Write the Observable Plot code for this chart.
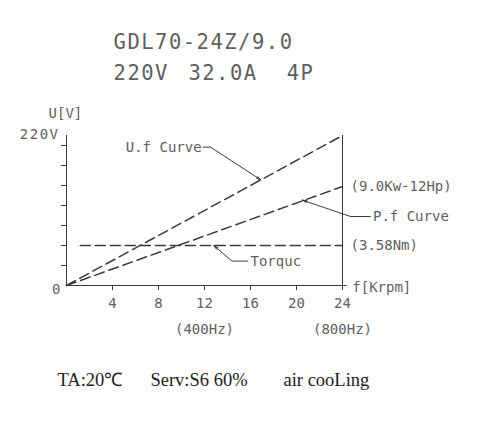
<!DOCTYPE html>
<html><head><meta charset="utf-8">
<script src="https://cdn.jsdelivr.net/npm/d3@7"></script>
<script src="https://cdn.jsdelivr.net/npm/@observablehq/plot@0.6"></script>
<style>body{margin:0;background:#fff}</style>
</head><body><div id="chart"></div>
<script>
const xTicks = [4, 8, 12, 16, 20, 24];
const yTicks = [1, 2, 3, 4, 5, 6, 7];
const ufCurve = [{f: 0, v: 0}, {f: 24, v: 7.5}];
const pfCurve = [{f: 0, v: 0}, {f: 24, v: 4.95}];
const torqueLine = [{f: 1.2, v: 2}, {f: 24, v: 2}];
const hzLabels = [{f: 12, text: "(400Hz)"}, {f: 24, text: "(800Hz)"}];
const leftLeaders = [
  {name: "U.f Curve", lx: 11.75, ly: 6.92, ex: 12.52, ey: 6.92, tx: 16.9, ty: 5.28}
];
const rightLeaders = [
  {name: "P.f Curve", lx: 26.65, ly: 3.45, ex: 24.7, ey: 3.45, tx: 20.5, ty: 4.27},
  {name: "Torquc", lx: 16.0, ly: 1.22, ex: 14.4, ey: 1.22, tx: 12.8, ty: 2.0}
];
const rightLabels = [
  {f: 24.7, v: 4.95, text: "(9.0Kw-12Hp)"},
  {f: 24.7, v: 2.0, text: "(3.58Nm)"},
  {f: 24.85, v: -0.1, text: "f[Krpm]"}
];
const titleLine1 = ["GDL70-24Z/9.0"];
const titleLine2 = ["220V", "32.0A", "4P"];
const footer = ["TA:20℃", "Serv:S6 60%", "air cooLing"];

const cad = "DejaVu Sans Mono, monospace";
const ink = "#3a3a3a";
const txt = "#606060";

const chart = Plot.plot({
  width: 480, height: 425,
  marginLeft: 66, marginRight: 138, marginTop: 135, marginBottom: 140,
  x: {domain: [0, 24], axis: null},
  y: {domain: [0, 7.5], axis: null},
  style: {background: "#fff", color: ink, fontFamily: cad, overflow: "visible"},
  marks: [
    Plot.axisX({ticks: xTicks, tickSize: 5, tickPadding: 8, fontSize: 14, fill: txt, stroke: ink, tickFormat: d => String(d)}),
    Plot.axisY({ticks: yTicks, tickSize: 5, tickFormat: () => "", stroke: ink}),
    Plot.ruleX([0], {y1: 0, y2: 7.5, stroke: ink}),
    Plot.ruleX([24], {y1: -0.22, y2: 7.5, stroke: ink}),
    Plot.ruleY([0], {x1: 0, x2: 24.4, stroke: ink}),
    Plot.line(ufCurve, {x: "f", y: "v", stroke: ink, strokeDasharray: "10,5"}),
    Plot.line(pfCurve, {x: "f", y: "v", stroke: ink, strokeDasharray: "10,5"}),
    Plot.line(torqueLine, {x: "f", y: "v", stroke: ink, strokeDasharray: "10,5"}),
    Plot.link(leftLeaders, {x1: d => d.lx + 0.1, y1: "ly", x2: "ex", y2: "ey", stroke: ink}),
    Plot.link(rightLeaders, {x1: d => d.lx - 0.2, y1: "ly", x2: "ex", y2: "ey", stroke: ink}),
    Plot.arrow([...leftLeaders, ...rightLeaders], {x1: "ex", y1: "ey", x2: "tx", y2: "ty", stroke: ink, headLength: 7, headAngle: 25, strokeWidth: 1}),
    Plot.text(leftLeaders, {x: "lx", y: "ly", text: "name", textAnchor: "end", fontSize: 14, fill: txt}),
    Plot.text(rightLeaders, {x: "lx", y: "ly", text: "name", textAnchor: "start", fontSize: 14, fill: txt}),
    Plot.text(rightLabels, {x: "f", y: "v", text: "text", textAnchor: "start", fontSize: 14, fill: txt}),
    Plot.text(hzLabels, {x: "f", y: -2.2, text: "text", fontSize: 14, fill: txt}),
    Plot.text(["220V"], {x: 0, y: 7.55, dx: -7, textAnchor: "end", fontSize: 14, fill: txt}),
    Plot.text(["0"], {x: 0, y: -0.2, dx: -6, textAnchor: "end", fontSize: 14, fill: txt}),
    Plot.text(["U[V]"], {x: -1.56, y: 8.6, textAnchor: "start", fontSize: 14, fill: txt}),
    Plot.text(titleLine1, {x: 4.09, y: 12.15, textAnchor: "start", fontSize: 20.5, fill: txt}),
    Plot.text(titleLine2, {x: [4.09, 10.6, 19.15], y: 10.6, text: d => d, textAnchor: "start", fontSize: 20.5, fill: txt}),
    Plot.text(footer, {x: [-0.78, 7.3, 18.87], y: -4.75, text: d => d, textAnchor: "start", fontSize: 18.5, fill: "#222", fontFamily: "Liberation Serif, serif"})
  ]
});
d3.select(chart).selectAll("text").filter(function() {
  const t = this.textContent;
  return titleLine1.includes(t) || titleLine2.includes(t);
}).attr("letter-spacing", "1.5px");
document.getElementById("chart").append(chart);
</script>
</body></html>
